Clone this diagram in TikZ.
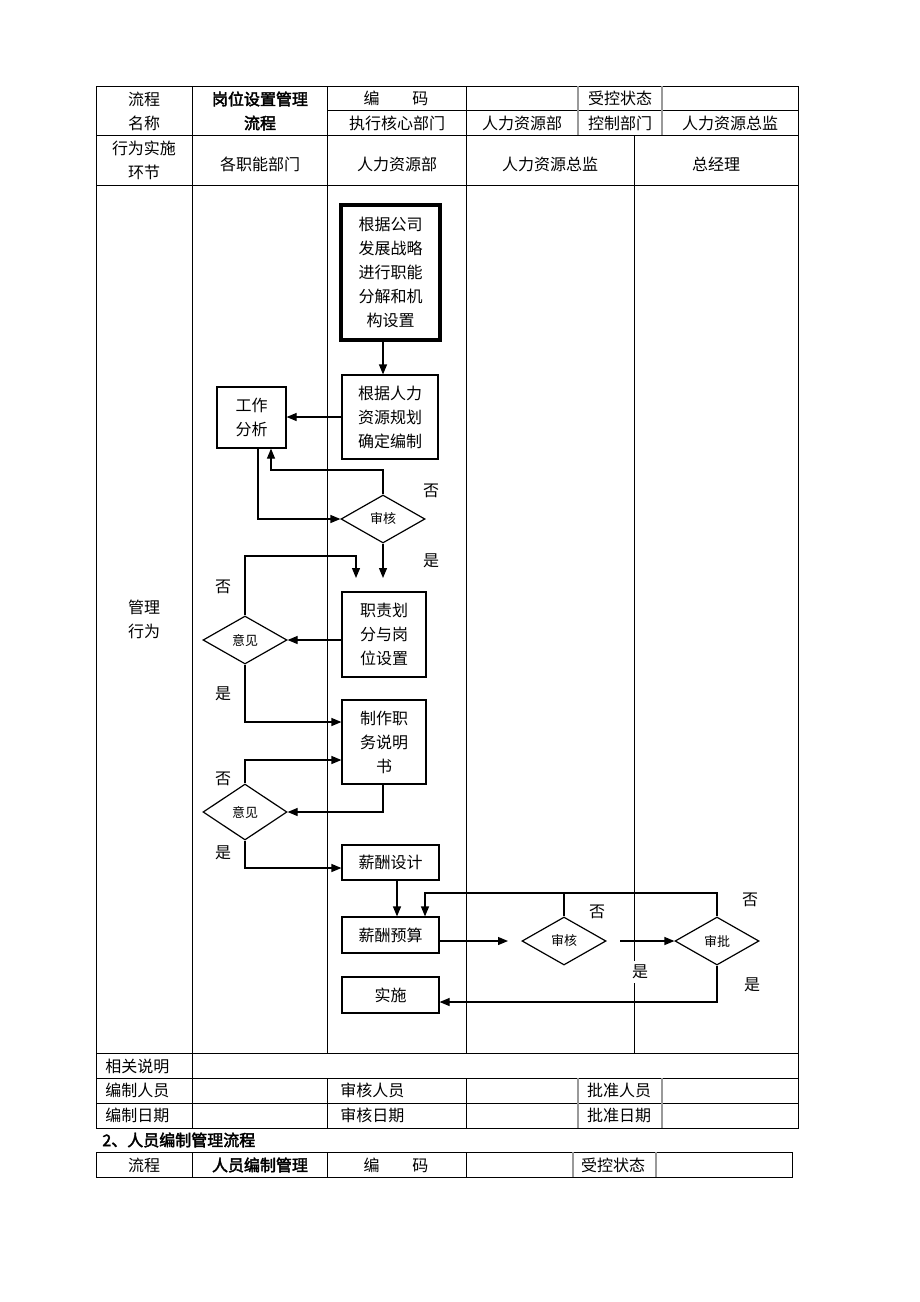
\documentclass[tikz,border=0pt]{standalone}
\usepackage{fontspec}
\setmainfont{Noto Sans CJK SC}[AutoFakeBold=2.5]
\usetikzlibrary{shapes.geometric,arrows.meta}
\begin{document}
\begin{tikzpicture}[x=0.5pt,y=-0.5pt,
 tl/.style={line width=0.5pt, draw=black},
 gl/.style={line width=0.6pt, draw=black!40},
 txt/.style={font=\fontsize{8}{12}\selectfont, inner sep=0pt, align=center},
 box/.style={draw, line width=0.6pt, inner sep=0pt, align=center, font=\fontsize{8}{12}\selectfont},
 dia/.style={diamond, draw, line width=0.6pt, inner sep=0pt, font=\fontsize{6.5}{8}\selectfont},
 arr/.style={line width=0.6pt, -{Triangle[length=5pt,width=4pt]}},
 ln/.style={line width=0.6pt},
 lab/.style={font=\fontsize{8}{10}\selectfont, inner sep=1pt}]

\useasboundingbox (0,0) rectangle (920,1302);
\fill[white] (0,0) rectangle (920,1302);

% ---------- main table frame ----------
\draw[tl] (96,86) rectangle (798,1128);
\draw[tl] (327,110) -- (798,110);
\draw[tl] (96,135) -- (798,135);
\draw[tl] (96,185) -- (798,185);
\draw[tl] (96,1053) -- (798,1053);
\draw[tl] (96,1078) -- (798,1078);
\draw[tl] (96,1103) -- (798,1103);
\draw[tl] (192,86) -- (192,1128);
\draw[tl] (327,86) -- (327,1053);
\draw[tl] (466,86) -- (466,1053);
\draw[tl] (327,1078) -- (327,1128);
\draw[tl] (466,1078) -- (466,1128);
\draw[gl] (578,86) -- (578,135);
\draw[gl] (662,86) -- (662,135);
\draw[gl] (578,1078) -- (578,1128);
\draw[gl] (662,1078) -- (662,1128);
\draw[tl] (634,135) -- (634,1053);

% ---------- header texts ----------
\node[txt] (h1) at (144,99) {流程};
\node[txt] (h2) at (144,123) {名称};
\node[txt,font=\fontsize{8}{12}\selectfont\bfseries] (h3) at (260,99) {岗位设置管理};
\node[txt,font=\fontsize{8}{12}\selectfont\bfseries] (h4) at (260,123) {流程};
\node[txt] (h5) at (396,98) {编\hspace{16.5pt}码};
\node[txt] (h6) at (620,98) {受控状态};
\node[txt] (h7) at (397,123) {执行核心部门};
\node[txt] (h8) at (522,123) {人力资源部};
\node[txt] (h9) at (620,123) {控制部门};
\node[txt] (h10) at (730,123) {人力资源总监};
\node[txt] (h11) at (144,148) {行为实施};
\node[txt] (h12) at (144,172) {环节};
\node[txt] (h13) at (260,164) {各职能部门};
\node[txt] (h14) at (397,164) {人力资源部};
\node[txt] (h15) at (550,164) {人力资源总监};
\node[txt] (h16) at (716,164) {总经理};
\node[txt] (h17) at (144,607) {管理};
\node[txt] (h18) at (144,631) {行为};

% ---------- footer texts ----------
\node[txt,anchor=west] (f1t) at (105,1066) {相关说明};
\node[txt,anchor=west] (f2t) at (105,1090) {编制人员};
\node[txt,anchor=west] (f3t) at (340,1090) {审核人员};
\node[txt] (f4t) at (619,1090) {批准人员};
\node[txt,anchor=west] (f5t) at (105,1115) {编制日期};
\node[txt,anchor=west] (f6t) at (340,1115) {审核日期};
\node[txt] (f7t) at (619,1115) {批准日期};

\node[txt,anchor=west,font=\fontsize{8}{12}\selectfont\bfseries] (sec) at (102,1140) {2、人员编制管理流程};

% ---------- second table ----------
\draw[tl] (96,1152) rectangle (792,1177);
\draw[tl] (192,1152) -- (192,1177);
\draw[tl] (327,1152) -- (327,1177);
\draw[tl] (466,1152) -- (466,1177);
\draw[gl] (573,1152) -- (573,1177);
\draw[gl] (656,1152) -- (656,1177);
\node[txt] (s1) at (144,1165) {流程};
\node[txt,font=\fontsize{8}{12}\selectfont\bfseries] (s2) at (260,1165) {人员编制管理};
\node[txt] (s3) at (396,1165) {编\hspace{16.5pt}码};
\node[txt] (s4) at (613,1165) {受控状态};

% ---------- flow nodes ----------
\node[box, line width=2pt, minimum width=49.5pt, minimum height=67.5pt] (n1) at (390.5,272.5)
  {根据公司\\发展战略\\进行职能\\分解和机\\构设置};
\node[box, minimum width=48pt, minimum height=42pt] (n2) at (390,417) {根据人力\\资源规划\\确定编制};
\node[box, minimum width=34.5pt, minimum height=30.5pt] (n3) at (251.5,417.5) {工作\\分析};
\node[dia, minimum width=42pt, minimum height=24pt] (d1) at (383,519) {审核};
\node[box, minimum width=42pt, minimum height=42.5pt] (n4) at (384,634.5) {职责划\\分与岗\\位设置};
\node[dia, minimum width=42pt, minimum height=24pt] (d2) at (245,640) {意见};
\node[box, minimum width=42pt, minimum height=42pt] (n5) at (384,742) {制作职\\务说明\\书};
\node[dia, minimum width=42pt, minimum height=28pt] (d3) at (245,812) {意见};
\node[box, minimum width=48.5pt, minimum height=17.5pt] (n6) at (390.5,862.5) {薪酬设计};
\node[box, minimum width=48.5pt, minimum height=18pt] (n7) at (390.5,935) {薪酬预算};
\node[dia, minimum width=42pt, minimum height=24pt] (d4) at (564,941) {审核};
\node[dia, minimum width=42pt, minimum height=24pt] (d5) at (717,941) {审批};
\node[box, minimum width=48.5pt, minimum height=18pt] (n8) at (390.5,995) {实施};

% ---------- connectors ----------
\draw[arr] (n1.south -| d1.center) -- (n2.north -| d1.center);
\draw[arr] (n2.west) -- (n2.west -| n3.east);
\draw[arr] ([xshift=3.25pt]n3.south) |- (d1.west);
\coordinate (j1) at (271,470);
\draw[arr] (d1.north) |- (j1) -- (j1 |- n3.south);
\coordinate (t1) at (383,578);
\draw[arr] (d1.south) -- (t1);
\coordinate (k2) at (356,556);
\coordinate (t2) at (356,578);
\draw[arr] (d2.north) |- (k2) -- (t2);
\draw[arr] (n4.west |- d2.east) -- (d2.east);
\draw[arr] (d2.south) |- ([yshift=10pt]n5.west);
\draw[arr] (d3.north) |- ([yshift=-9pt]n5.west);
\draw[arr] (n5.south -| d1.center) |- (d3.east);
\draw[arr] (d3.south) |- ([yshift=-2.75pt]n6.west);
\draw[arr] ([xshift=3.25pt]n6.south) -- ([xshift=3.25pt]n7.north);
\coordinate (fb1) at (717,893);
\coordinate (fb2) at (425,893);
\draw[arr] (d5.north) -- (fb1) -- (fb2) -- (fb2 |- n7.north);
\draw[ln] (d4.north) -- (d4.north |- fb1);
\coordinate (g1) at (508,941);
\draw[arr] (n7.east |- d4.west) -- (g1);
\coordinate (g2) at (620,941);
\draw[arr] (g2) -- (d5.west);
\draw[arr] (d5.south) |- ([yshift=-3.5pt]n8.east);

% ---------- labels ----------
\node[lab] (l1) at (431,491) {否};
\node[lab] (l2) at (431,561) {是};
\node[lab] (l3) at (223,587) {否};
\node[lab] (l4) at (223,694) {是};
\node[lab] (l5) at (223,779) {否};
\node[lab] (l6) at (223,853) {是};
\node[lab] (l7) at (597,912) {否};
\node[lab] (l8) at (750,900) {否};
\node[lab, fill=white, inner sep=2pt] (l9) at (640,972) {是};
\node[lab] (l10) at (752,985) {是};
\end{tikzpicture}
\end{document}
